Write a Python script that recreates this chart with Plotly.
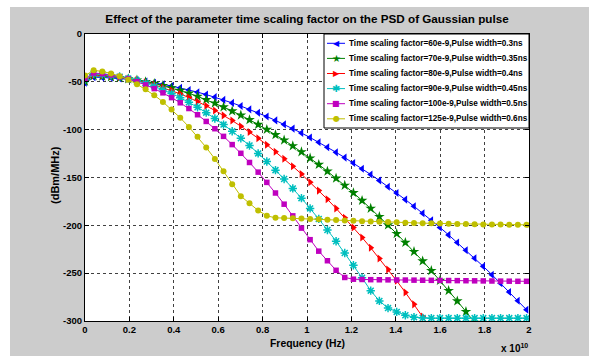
import plotly.graph_objects as go

# ---------------- data ----------------
freq_e10 = [0.000, 0.039, 0.078, 0.117, 0.156, 0.195, 0.234, 0.273, 0.312, 0.351,
            0.390, 0.429, 0.468, 0.507, 0.546, 0.585, 0.624, 0.663, 0.702, 0.741,
            0.780, 0.819, 0.858, 0.897, 0.936, 0.975, 1.014, 1.053, 1.092, 1.131,
            1.170, 1.209, 1.248, 1.287, 1.326, 1.365, 1.404, 1.443, 1.482, 1.521,
            1.560, 1.599, 1.638, 1.677, 1.716, 1.755, 1.794, 1.833, 1.872, 1.911,
            1.950, 1.989]

psd_60 = [-51.0, -45.1, -45.4, -45.8, -46.5, -47.3, -48.4, -49.6, -51.0, -52.6,
          -54.4, -56.3, -58.5, -60.8, -63.3, -66.0, -68.9, -72.0, -75.3, -78.8,
          -82.4, -86.3, -90.3, -94.5, -98.9, -103.5, -108.2, -113.2, -118.3, -123.7,
          -129.2, -134.9, -140.8, -146.9, -153.1, -159.6, -166.2, -173.1, -180.1, -187.3,
          -194.7, -202.2, -210.0, -218.0, -226.1, -234.4, -242.9, -251.6, -260.5, -269.6,
          -278.9, -288.3]

psd_70 = [-49.5, -43.8, -44.2, -44.8, -45.7, -46.9, -48.3, -49.9, -51.8, -54.0,
          -56.4, -59.1, -62.0, -65.2, -68.7, -72.3, -76.3, -80.5, -84.9, -89.7,
          -94.6, -99.8, -105.3, -111.0, -117.0, -123.3, -129.8, -136.5, -143.5, -150.8,
          -158.3, -166.0, -174.1, -182.3, -190.9, -199.7, -208.7, -218.0, -227.5, -237.3,
          -247.4, -257.7, -268.3, -279.1, -290.2, -301.5, None, None, None, None,
          None, None]

psd_80 = [-48.5, -42.7, -43.2, -44.0, -45.2, -46.7, -48.5, -50.6, -53.1, -56.0,
          -59.1, -62.6, -66.4, -70.6, -75.1, -79.9, -85.1, -90.5, -96.4, -102.5,
          -109.0, -115.8, -123.0, -130.4, -138.3, -146.4, -154.9, -163.7, -172.8, -182.3,
          -192.1, -202.3, -212.7, -223.5, -234.7, -246.2, -258.0, -270.1, -282.6, -295.4,
          -308.5, None, None, None, None, None, None, None, None, None,
          None, None]

psd_90 = [-47.5, -41.6, -42.2, -43.3, -44.7, -46.6, -48.9, -51.6, -54.7, -58.3,
          -62.2, -66.6, -71.4, -76.6, -82.2, -88.3, -94.7, -101.6, -108.9, -116.6,
          -124.8, -133.3, -142.3, -151.6, -161.4, -171.6, -182.3, -193.3, -204.8, -216.6,
          -228.9, -241.7, -254.8, -268.3, -279.0, -286.5, -290.5, -294.0, -296.0, -296.8,
          -297.0, -297.0, -297.0, -297.0, -297.0, -297.0, -297.0, -297.0, -297.0, -297.0,
          -297.0, -297.0]

psd_100 = [-46.5, -40.8, -41.5, -42.8, -44.7, -47.0, -49.9, -53.2, -57.1, -61.5,
           -66.5, -71.9, -77.9, -84.4, -91.4, -99.0, -107.0, -115.6, -124.7, -134.3,
           -144.4, -155.1, -166.2, -177.9, -190.1, -202.9, -215.0, -227.0, -237.0, -247.0,
           -254.5, -256.3, -256.6, -256.8, -256.9, -257.0, -257.1, -257.2, -257.3, -257.4,
           -257.5, -257.6, -257.7, -257.8, -257.9, -258.0, -258.1, -258.2, -258.3, -258.4,
           -258.5, -258.5]

psd_125 = [-43.5, -37.9, -39.2, -41.2, -44.1, -47.8, -52.4, -57.8, -64.0, -71.0,
           -78.9, -87.6, -97.1, -107.4, -118.6, -130.6, -143.4, -157.1, -169.5, -177.0,
           -184.5, -190.0, -192.2, -192.4, -192.6, -192.9, -193.3, -193.7, -194.1, -194.5,
           -194.9, -195.3, -195.7, -196.0, -196.3, -196.6, -196.9, -197.2, -197.5, -197.7,
           -197.9, -198.1, -198.3, -198.5, -198.7, -198.9, -199.0, -199.1, -199.2, -199.3,
           -199.4, -199.5]

series_names = [
    "Time scaling factor=60e-9,Pulse width=0.3ns",
    "Time scaling factor=70e-9,Pulse width=0.35ns",
    "Time scaling factor=80e-9,Pulse width=0.4ns",
    "Time scaling factor=90e-9,Pulse width=0.45ns",
    "Time scaling factor=100e-9,Pulse width=0.5ns",
    "Time scaling factor=125e-9,Pulse width=0.6ns",
]
series_values = [psd_60, psd_70, psd_80, psd_90, psd_100, psd_125]

x_tick_vals_e10 = [0, 0.2, 0.4, 0.6, 0.8, 1.0, 1.2, 1.4, 1.6, 1.8, 2.0]
x_tick_labels = ["0", "0.2", "0.4", "0.6", "0.8", "1", "1.2", "1.4", "1.6", "1.8", "2"]
y_tick_vals = [-300, -250, -200, -150, -100, -50, 0]
y_tick_labels = ["-300", "-250", "-200", "-150", "-100", "-50", "0"]

title_text = "Effect of the parameter time scaling factor on the PSD of Gaussian pulse"
x_title = "Frequency (Hz)"
y_title = "(dBm/MHz)"

# ---------------- styles ----------------
colors = ["#0000ff", "#008000", "#ff0000", "#00bfbf", "#bf00bf", "#bfbf00"]
symbols = ["triangle-left", "star", "triangle-right", "asterisk-open", "square", "circle"]
msizes = [7, 8, 7, 7, 5.5, 6]
glyphs = ["\u25C0", "\u2605", "\u25B6", "\u2731", "\u25A0", "\u25CF"]
gsizes = [8, 10, 8, 10, 8, 8]

W, H = 589, 356
L, R, T, B = 85, 60, 34, 35
PW, PH = W - L - R, H - T - B
FONT = "Liberation Sans, Arial, Helvetica, sans-serif"


def px(x):
    return (x - L) / PW


def py(y):
    return (H - B - y) / PH


fig = go.Figure()
xs = [f * 1e10 for f in freq_e10]
for name, vals, c, s, ms in zip(series_names, series_values, colors, symbols, msizes):
    marker = dict(symbol=s, size=ms, color=c, line=dict(color=c, width=1.5 if "open" in s else 0))
    fig.add_trace(go.Scatter(x=xs, y=vals, name=name, mode="lines+markers",
                             line=dict(color=c, width=1), marker=marker,
                             showlegend=False, cliponaxis=True))

shapes = []
annotations = []
# white border strips of the original image
shapes.append(dict(type="rect", xref="paper", yref="paper", x0=px(0) - 0.05, x1=px(10),
                   y0=py(H) - 0.05, y1=py(0) + 0.05, fillcolor="white", line=dict(width=0), layer="below"))
shapes.append(dict(type="rect", xref="paper", yref="paper", x0=px(0) - 0.05, x1=px(W) + 0.05,
                   y0=py(7), y1=py(0) + 0.05, fillcolor="white", line=dict(width=0), layer="below"))

# custom legend box
shapes.append(dict(type="rect", xref="paper", yref="paper", x0=px(324), x1=px(529),
                   y0=py(128), y1=py(34), fillcolor="white", line=dict(color="black", width=1),
                   layer="above"))
for i, (name, c, g, gs) in enumerate(zip(series_names, colors, glyphs, gsizes)):
    cy = 43.3 + 15.1 * i
    shapes.append(dict(type="line", xref="paper", yref="paper", x0=px(327), x1=px(345),
                       y0=py(cy), y1=py(cy), line=dict(color=c, width=1), layer="above"))
    annotations.append(dict(xref="paper", yref="paper", x=px(336), y=py(cy), text=g,
                            showarrow=False, xanchor="center", yanchor="middle",
                            font=dict(family="DejaVu Sans", size=gs, color=c)))
    annotations.append(dict(xref="paper", yref="paper", x=px(347), y=py(cy), text=name,
                            showarrow=False, xanchor="left", yanchor="middle",
                            font=dict(family=FONT, size=8.2, color="black", weight="bold")))

# axis titles and exponent
annotations.append(dict(xref="paper", yref="paper", x=0.5, y=py(343.5), text=x_title,
                        showarrow=False, xanchor="center", yanchor="middle",
                        font=dict(family=FONT, size=10.4, color="black", weight="bold")))
annotations.append(dict(xref="paper", yref="paper", x=px(55), y=py(175), text=y_title,
                        showarrow=False, xanchor="center", yanchor="middle", textangle=-90,
                        font=dict(family=FONT, size=11, color="black", weight="bold")))
annotations.append(dict(xref="paper", yref="paper", x=px(530), y=py(348), text="x 10<sup>10</sup>",
                        showarrow=False, xanchor="right", yanchor="middle",
                        font=dict(family=FONT, size=10, color="black", weight="bold")))

axis_common = dict(ticks="inside", ticklen=4, tickcolor="black", tickwidth=1,
                   showline=True, linecolor="black", linewidth=1, mirror="ticks",
                   showgrid=True, gridcolor="rgba(0,0,0,0.75)", griddash="dot", gridwidth=1,
                   zeroline=False, automargin=False,
                   tickfont=dict(family=FONT, size=9.5, color="black", weight="bold"))

fig.update_layout(
    width=W, height=H, autosize=False,
    margin=dict(l=L, r=R, t=T, b=B, pad=0),
    paper_bgcolor="#cccccc", plot_bgcolor="white",
    font=dict(family=FONT, color="black"),
    title=dict(text=title_text, x=0.5, xref="paper", xanchor="center",
               y=1 - 19 / H, yref="container", yanchor="middle",
               font=dict(family=FONT, size=11.7, color="black", weight="bold")),
    xaxis=dict(range=[0, 2e10], tickvals=[v * 1e10 for v in x_tick_vals_e10],
               ticktext=x_tick_labels, **axis_common),
    yaxis=dict(range=[-300, 0], tickvals=y_tick_vals, ticktext=y_tick_labels, **axis_common),
    shapes=shapes, annotations=annotations, showlegend=False,
)

fig.write_html("out.html", config={"displayModeBar": False},
               post_script="document.body.style.margin='0';document.body.style.padding='0';")
